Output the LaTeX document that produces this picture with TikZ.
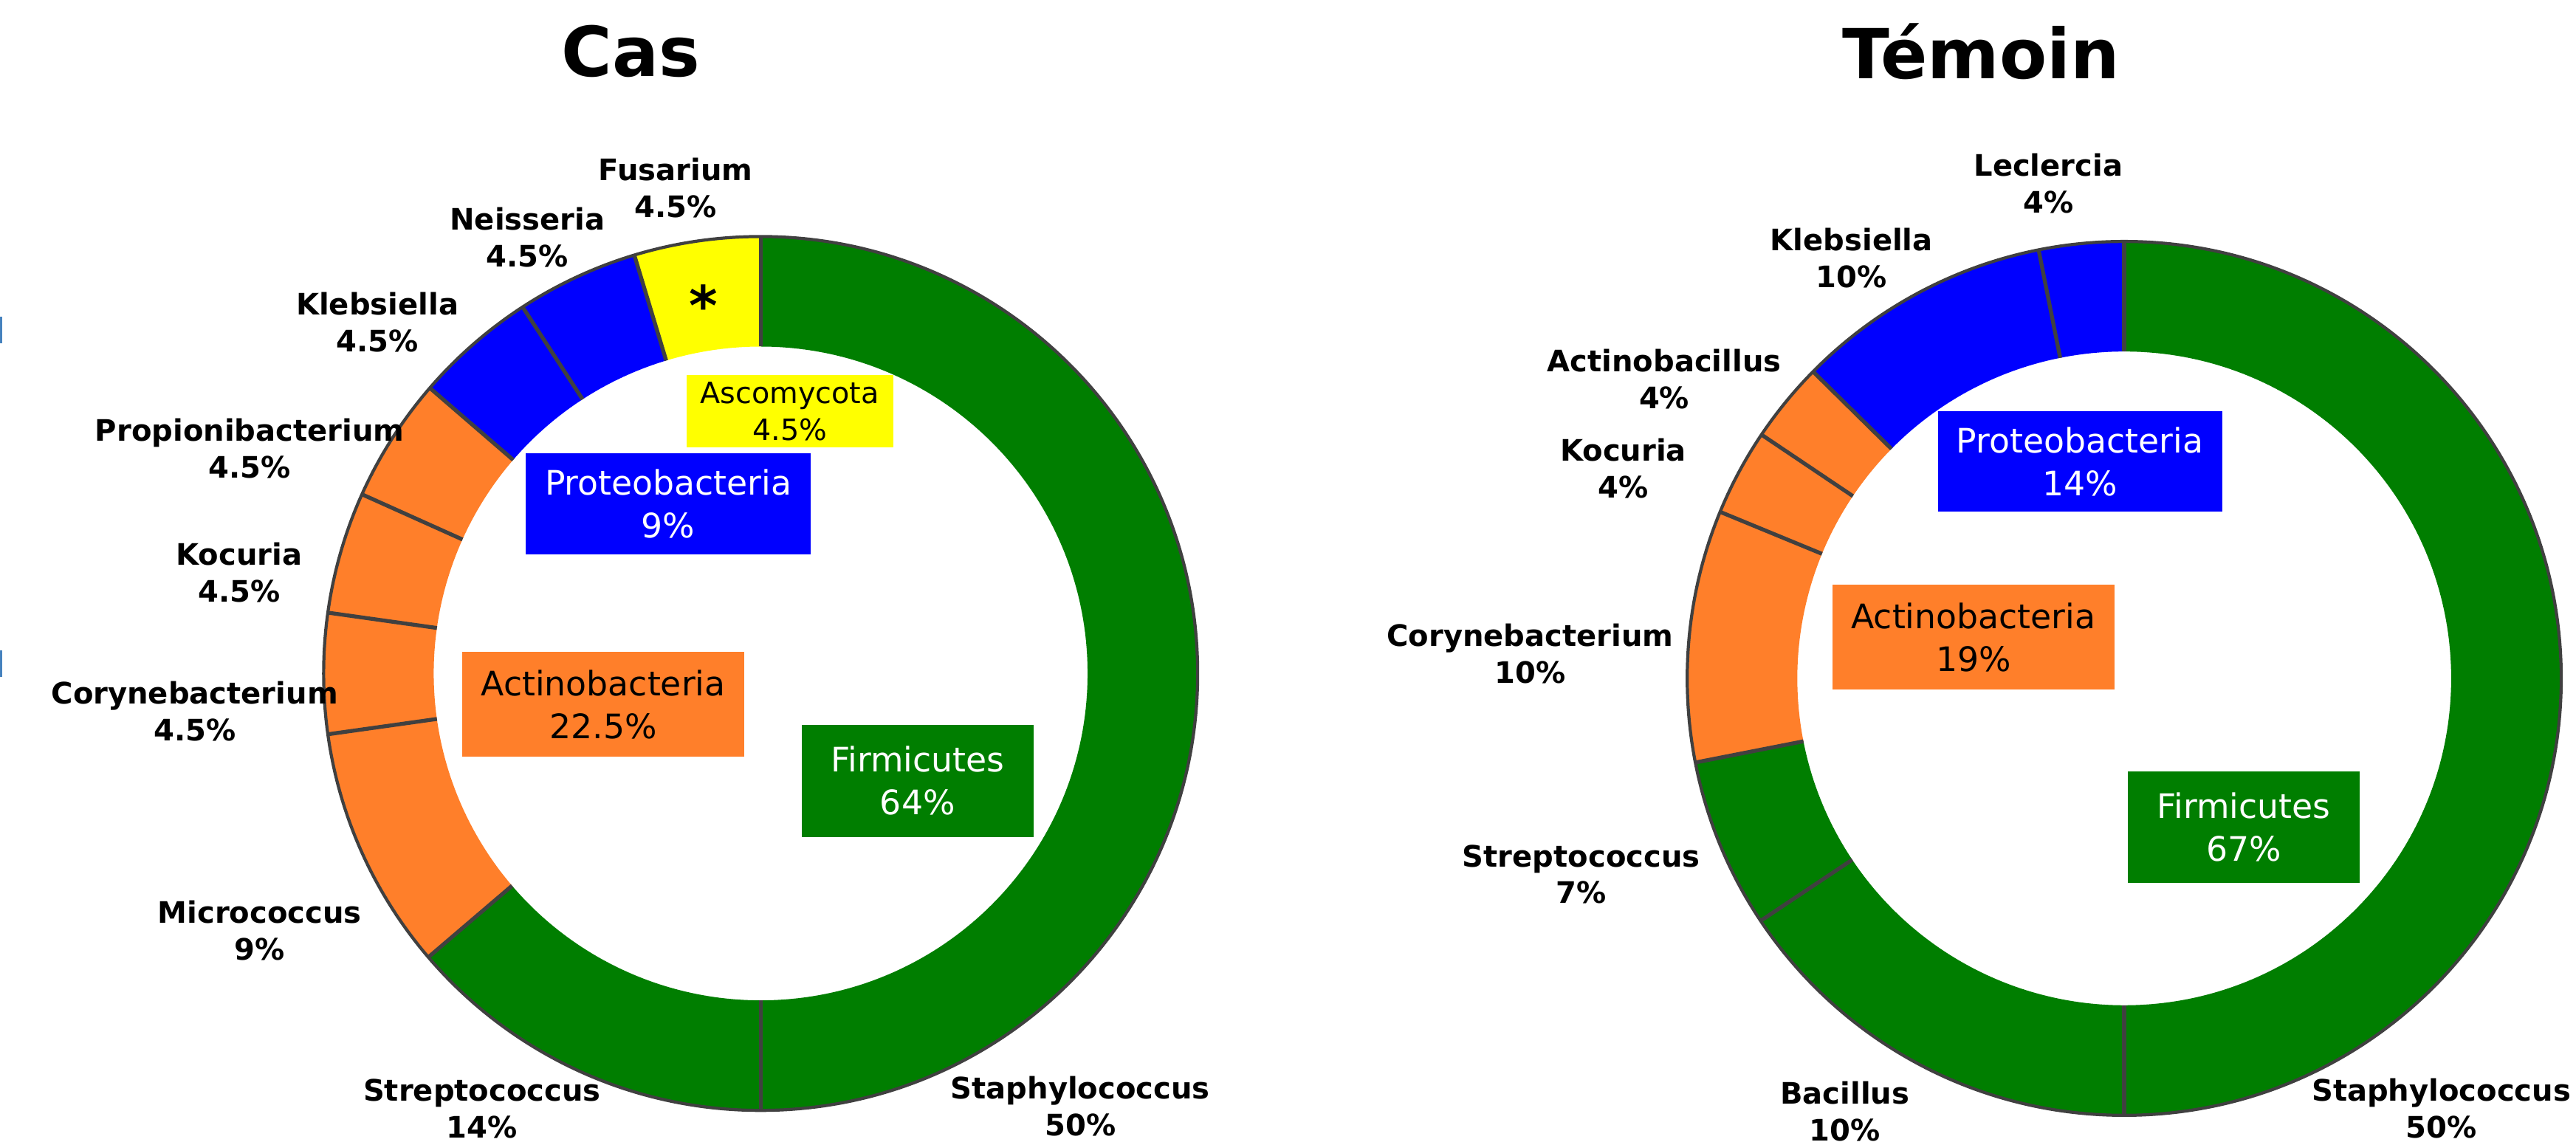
\documentclass[tikz,border=0pt]{standalone}
\usepackage{fontspec}
\setmainfont{DejaVu Sans}
\usetikzlibrary{positioning}
\definecolor{firmgreen}{RGB}{0,126,0}
\definecolor{proteoblue}{RGB}{0,0,255}
\definecolor{actinorange}{RGB}{255,127,42}
\definecolor{ascoyellow}{RGB}{255,255,0}
\definecolor{ringgray}{RGB}{64,64,64}
\definecolor{edgeblue}{RGB}{70,130,190}

\begin{document}
\begin{tikzpicture}[x=0.02225cm,y=0.02225cm,
  title/.style={font=\fontsize{26.6}{32}\selectfont\bfseries,anchor=base,inner sep=0pt},
  genus/.style={font=\fontsize{11.4}{14.2}\selectfont\bfseries,align=center,inner sep=0pt},
  phylum/.style={font=\fontsize{13}{16.5}\selectfont,align=center,inner sep=0pt},
  sep/.style={draw=ringgray,line width=1.5pt},
  rim/.style={draw=ringgray,line width=1.2pt}]
  \useasboundingbox (0,0) rectangle (1568,695);
  \coordinate (casc) at (463,285);
  \coordinate (temc) at (1293,282);

  % Cas ring
  \foreach \a/\b/\col in {90/106.8/ascoyellow,106.8/123/proteoblue,123/139.2/proteoblue,
      139.2/155.8/actinorange,155.8/172/actinorange,172/188/actinorange,188/220.5/actinorange,
      220.5/270/firmgreen,270/450/firmgreen}
    \fill[\col,shift={(casc)}] (\a:266) arc[start angle=\a,end angle=\b,radius=266]
      -- (\b:199) arc[start angle=\b,end angle=\a,radius=199] -- cycle;
  \foreach \a in {90,106.8,123,139.2,155.8,172,188,220.5,270}
    \draw[sep,shift={(casc)}] (\a:199) -- (\a:266);
  \draw[rim] (casc) circle[radius=266];

  % Temoin ring
  \foreach \a/\b/\col in {90/101.3/proteoblue,101.3/135.4/proteoblue,135.4/146.1/actinorange,
      146.1/157.6/actinorange,157.6/191.1/actinorange,191.1/213.7/firmgreen,
      213.7/270/firmgreen,270/450/firmgreen}
    \fill[\col,shift={(temc)}] (\a:266) arc[start angle=\a,end angle=\b,radius=266]
      -- (\b:199) arc[start angle=\b,end angle=\a,radius=199] -- cycle;
  \foreach \a in {90,101.3,135.4,146.1,157.6,191.1,213.7,270}
    \draw[sep,shift={(temc)}] (\a:199) -- (\a:266);
  \draw[rim] (temc) circle[radius=266];

  % titles
  \node[title] (castitle) at (384,648.4) {Cas};
  \node[title] (temtitle) at (1206,647.1) {Témoin};

  % phylum boxes
  \node[phylum,fill=ascoyellow,minimum width=2.80cm,minimum height=0.98cm,
        font=\fontsize{11.3}{14.2}\selectfont] (casasco) at (480.75,444.7) {Ascomycota\\4.5\%};
  \node[phylum,fill=proteoblue,text=white,minimum width=3.86cm,minimum height=1.37cm] (casproteo) at (406.75,388.4) {Proteobacteria\\9\%};
  \node[phylum,fill=actinorange,minimum width=3.82cm,minimum height=1.42cm] (casactino) at (367.2,266.2) {Actinobacteria\\22.5\%};
  \node[phylum,fill=firmgreen,text=white,minimum width=3.14cm,minimum height=1.52cm] (casfirmi) at (558.5,219.65) {Firmicutes\\64\%};
  \node[phylum,fill=proteoblue,text=white,minimum width=3.85cm,minimum height=1.36cm] (temproteo) at (1266,413.9) {Proteobacteria\\14\%};
  \node[phylum,fill=actinorange,minimum width=3.82cm,minimum height=1.42cm] (temactino) at (1201.2,307.05) {Actinobacteria\\19\%};
  \node[phylum,fill=firmgreen,text=white,minimum width=3.13cm,minimum height=1.51cm] (temfirmi) at (1365.75,191.6) {Firmicutes\\67\%};

  % marker in the Fusarium slice
  \node[font=\fontsize{21}{21}\selectfont\bfseries,anchor=base,inner sep=0pt] (fusstar) at (428.4,497) {*};

  % genus labels, Cas
  \node[genus] (cfus) at (411.3,580.6) {Fusarium\\4.5\%};
  \node[genus] (cnei) at (321,550.5) {Neisseria\\4.5\%};
  \node[genus] (ckle) at (229.7,499) {Klebsiella\\4.5\%};
  \node[genus] (cpro) at (152,422) {Propionibacterium\\4.5\%};
  \node[genus] (ckoc) at (145.5,346.5) {Kocuria\\4.5\%};
  \node[genus] (ccor) at (118.5,262) {Corynebacterium\\4.5\%};
  \node[genus] (cmic) at (158,128.5) {Micrococcus\\9\%};
  \node[genus] (cstr) at (293.4,20) {Streptococcus\\14\%};
  \node[genus] (csta) at (657.6,21.5) {Staphylococcus\\50\%};

  % genus labels, Temoin
  \node[genus] (tlec) at (1246.8,583.2) {Leclercia\\4\%};
  \node[genus] (tkle) at (1127,537.8) {Klebsiella\\10\%};
  \node[genus] (tact) at (1013,464.2) {Actinobacillus\\4\%};
  \node[genus] (tkoc) at (988,409.7) {Kocuria\\4\%};
  \node[genus] (tcor) at (931.4,297.1) {Corynebacterium\\10\%};
  \node[genus] (tstr) at (962.5,162.7) {Streptococcus\\7\%};
  \node[genus] (tbac) at (1123,18.5) {Bacillus\\10\%};
  \node[genus] (tsta) at (1486,20) {Staphylococcus\\50\%};

  % edge marks
  \fill[edgeblue] (0,486) rectangle (1.3,502);
  \fill[edgeblue] (0,283) rectangle (1.3,299);
\end{tikzpicture}
\end{document}
